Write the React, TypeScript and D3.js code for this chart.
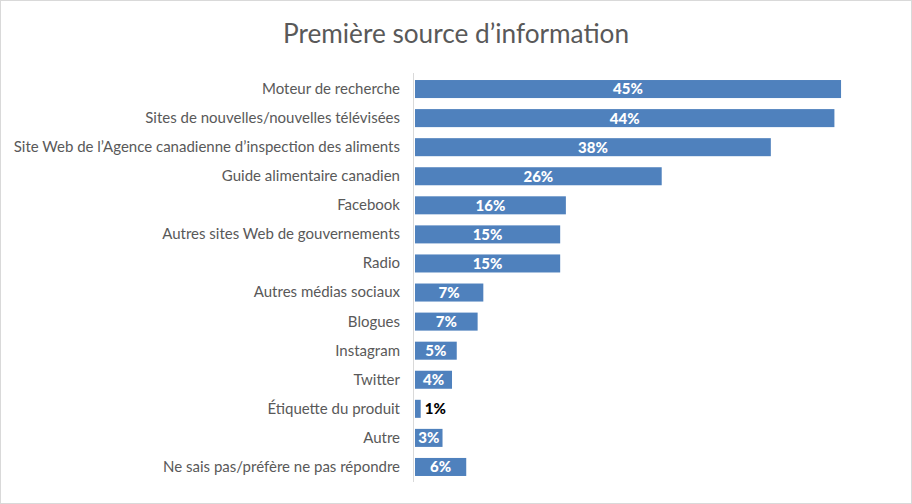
import React from "react";
import * as d3 from "d3";

const categories = [
  "Moteur de recherche",
  "Sites de nouvelles/nouvelles télévisées",
  "Site Web de l’Agence canadienne d’inspection des aliments",
  "Guide alimentaire canadien",
  "Facebook",
  "Autres sites Web de gouvernements",
  "Radio",
  "Autres médias sociaux",
  "Blogues",
  "Instagram",
  "Twitter",
  "Étiquette du produit",
  "Autre",
  "Ne sais pas/préfère ne pas répondre",
];
const values = [44.9, 44.2, 37.5, 26.0, 15.9, 15.3, 15.3, 7.2, 6.6, 4.4, 3.9, 0.6, 2.9, 5.4];
const valueLabels = ["45%", "44%", "38%", "26%", "16%", "15%", "15%", "7%", "7%", "5%", "4%", "1%", "3%", "6%"];
const title = "Première source d’information";

const W = 912;
const H = 504;
const left = 415;
const top = 74.5;
const bottom = 481.5;

export default function App() {
  const x = d3.scaleLinear().domain([0, 45]).range([left, left + 427]);
  const y = d3.scaleBand<string>().domain(categories).range([top, bottom]).paddingInner(0.38).paddingOuter(0.19);
  const font = "Lato, 'Open Sans', sans-serif";
  return (
    <svg
      width={W}
      height={H}
      style={{ position: "fixed", left: 0, top: 0, background: "#fff" }}
    >
      <rect x={0.5} y={0.5} width={W - 1} height={H - 1} fill="#fff" stroke="#d9d9d9" />
      <text x={456} y={43} textAnchor="middle" fontFamily={font} fontSize={26.2} fill="#595959">
        {title}
      </text>
      {categories.map((c, i) => {
        const by = y(c)!;
        const bh = y.bandwidth();
        const x1 = x(values[i]);
        const inside = x1 - x(0) > 20;
        return (
          <g key={c}>
            <text
              x={400}
              y={by + bh / 2}
              dy="0.33em"
              textAnchor="end"
              fontFamily={font}
              fontSize={15}
              fill="#595959"
            >
              {c}
            </text>
            <rect x={x(0)} y={by} width={x1 - x(0)} height={bh} fill="#4f81bd" />
            <text
              x={inside ? (x(0) + x1) / 2 : x1 + 4}
              y={by + bh / 2}
              dy="0.36em"
              textAnchor={inside ? "middle" : "start"}
              fontFamily={font}
              fontWeight="900"
              fontSize={15}
              fill={inside ? "#fff" : "#000"}
            >
              {valueLabels[i]}
            </text>
          </g>
        );
      })}
      <line x1={413.5} x2={413.5} y1={73} y2={482} stroke="#d9d9d9" strokeWidth={1} />
    </svg>
  );
}
